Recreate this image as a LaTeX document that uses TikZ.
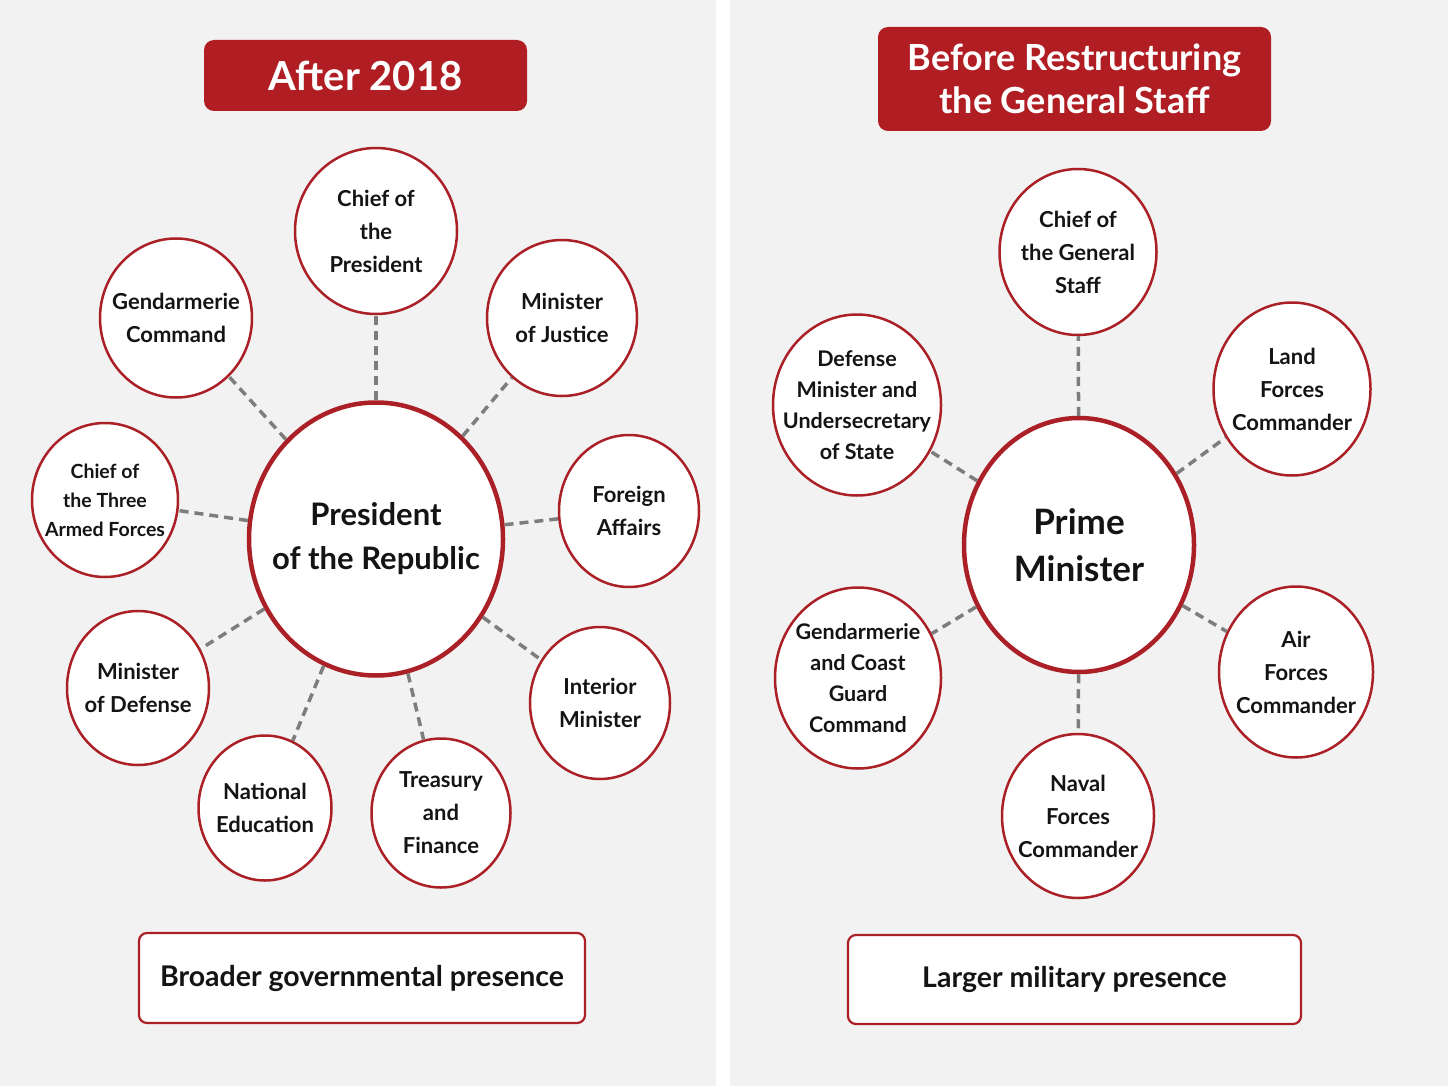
\documentclass[tikz,border=0pt]{standalone}
\usepackage{fontspec}
\setmainfont{Lato}
\usetikzlibrary{shapes.geometric}
\definecolor{dred}{RGB}{170,32,38}
\definecolor{tred}{RGB}{176,30,35}
\definecolor{bg}{RGB}{242,242,242}
\definecolor{dgray}{RGB}{125,125,125}

\begin{document}
\begin{tikzpicture}[x=1pt, y=-1pt,
	o/.style = {ellipse, draw=dred, fill=white, line width=2.5, inner sep=0},
	ctr/.style = {ellipse, draw=dred, fill=white, line width=4.5, inner sep=0},
	t/.style = {align=center, inner sep=0, text=black!92, font=\bfseries\fontsize{22}{33}\selectfont},
	head/.style = {rectangle, rounded corners=10, fill=tred, text=white, align=center, inner sep=0},
	sum/.style = {rectangle, rounded corners=8, draw=dred, fill=white, line width=2.2, inner sep=0, text=black!92, font=\bfseries\fontsize{28.5}{35}\selectfont},
	c/.style = {draw=dgray, line width=3.5, dash pattern=on 9 off 6}
	]
	
	%Background
	\useasboundingbox (0,0) rectangle (1448,1086);
	\fill[white] (0,0) rectangle (1448,1086);
	\fill[bg] (0,0) rectangle (716,1086);
	\fill[bg] (730,0) rectangle (1448,1086);
	
	%Nodes left
	\node[head, minimum width=323, minimum height=71, font=\bfseries\fontsize{40}{48}\selectfont]	(h1)	at	(365.5, 75.5)	{After 2018};
	\node[ctr, minimum width=254, minimum height=273, label={[t, font=\bfseries\fontsize{31}{44}\selectfont]center:{President\\of the Republic}}]	(pres)	at	(376, 539)	{};
	
	\node[o, minimum width=162, minimum height=166, label={[t]center:{Chief of\\the\\President}}]	(cpr)	at	(376, 231)	{};
	\node[o, minimum width=150, minimum height=156, label={[t]center:{Minister\\of Justice}}]	(jus)	at	(562, 318)	{};
	\node[o, minimum width=140, minimum height=152, label={[t]center:{Foreign\\Affairs}}]	(for)	at	(629, 511)	{};
	\node[o, minimum width=140, minimum height=152, label={[t]center:{Interior\\Minister}}]	(int)	at	(600, 703)	{};
	\node[o, minimum width=139, minimum height=149, label={[t]center:{Treasury\\and\\Finance}}]	(tre)	at	(441, 813)	{};
	\node[o, minimum width=133, minimum height=145, label={[t]center:{National\\Education}}]	(edu)	at	(265, 808)	{};
	\node[o, minimum width=142, minimum height=154, label={[t]center:{Minister\\of Defense}}]	(def)	at	(138, 688)	{};
	\node[o, minimum width=146, minimum height=154, label={[t, font=\bfseries\fontsize{19.5}{29}\selectfont]center:{Chief of\\the Three\\Armed Forces}}]	(ctf)	at	(105, 500)	{};
	\node[o, minimum width=152, minimum height=159, label={[t]center:{Gendarmerie\\Command}}]	(gen)	at	(176, 318)	{};
	
	\node[sum, minimum width=446, minimum height=90]	(s1)	at	(362, 978)	{Broader governmental presence};
	
	%Nodes right
	\node[head, minimum width=393, minimum height=104, font=\bfseries\fontsize{36}{43}\selectfont]	(h2)	at	(1074.5, 79)	{Before Restructuring\\the General Staff};
	\node[ctr, minimum width=230, minimum height=254, label={[t, font=\bfseries\fontsize{35}{47}\selectfont]center:{Prime\\Minister}}]	(pm)	at	(1079, 545)	{};
	
	\node[o, minimum width=157, minimum height=166, label={[t]center:{Chief of\\the General\\Staff}}]	(cgs)	at	(1078, 252)	{};
	\node[o, minimum width=157, minimum height=173, label={[t]center:{Land\\Forces\\Commander}}]	(lfc)	at	(1292, 389)	{};
	\node[o, minimum width=154, minimum height=171, label={[t]center:{Air\\Forces\\Commander}}]	(afc)	at	(1296, 672)	{};
	\node[o, minimum width=152, minimum height=164, label={[t]center:{Naval\\Forces\\Commander}}]	(nfc)	at	(1078, 816)	{};
	\node[o, minimum width=166, minimum height=181, label={[t, font=\bfseries\fontsize{21.5}{31}\selectfont]center:{Gendarmerie\\and Coast\\Guard\\Command}}]	(gcg)	at	(858, 678)	{};
	\node[o, minimum width=168, minimum height=181, label={[t, font=\bfseries\fontsize{21.5}{31}\selectfont]center:{Defense\\Minister and\\Undersecretary\\of State}}]	(dmu)	at	(857, 405)	{};
	
	\node[sum, minimum width=453, minimum height=89]	(s2)	at	(1074.5, 979.5)	{Larger military presence};
	
	%Lines
	\foreach \n in {cpr, jus, for, int, tre, edu, def, ctf, gen}
		\draw[c]	(pres)	--	(\n);
	\foreach \n in {cgs, lfc, afc, nfc, gcg, dmu}
		\draw[c]	(pm)	--	(\n);
	
\end{tikzpicture}
\end{document}
